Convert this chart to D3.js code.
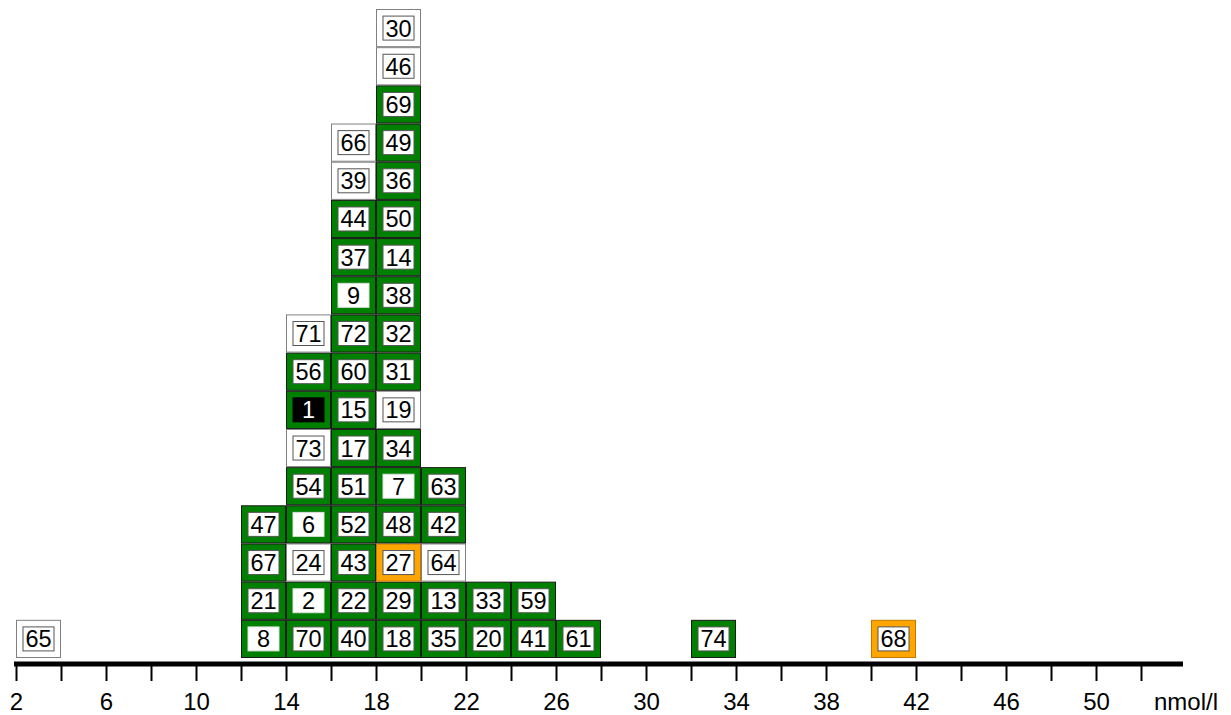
<!DOCTYPE html>
<html>
<head>
<meta charset="utf-8">
<script src="https://cdn.jsdelivr.net/npm/d3@7"></script>
<style>
  body { margin: 0; background: #fff; }
  svg text { font-family: "Liberation Sans", Arial, sans-serif; }
</style>
</head>
<body>
<svg id="chart" width="1231" height="715"></svg>
<script>
/* ── Data ─────────────────────────────────────────────────────── */
/* lower edge of each 2 nmol/l bin that holds results */
const binStarts = [2, 12, 14, 16, 18, 20, 22, 24, 26, 32, 40];
/* lab numbers stacked bottom → top in each bin */
const labStacks = [
  [65],
  [8, 21, 67, 47],
  [70, 2, 24, 6, 54, 73, 1, 56, 71],
  [40, 22, 43, 52, 51, 17, 15, 60, 72, 9, 37, 44, 39, 66],
  [18, 29, 27, 48, 7, 34, 19, 31, 32, 38, 14, 50, 36, 49, 69, 46, 30],
  [35, 13, 64, 42, 63],
  [20, 33],
  [41, 59],
  [61],
  [74],
  [68],
];
/* rating per box: g = ok (green), w = not rated, o = questionable, b = own lab */
const labStatus = [
  "w",
  "gggg",
  "ggwggwbgw",
  "ggggggggggggww",
  "ggogggwggggggggww",
  "ggwgg",
  "gg",
  "gg",
  "g",
  "g",
  "o",
];
const tickValues = d3.range(2, 53, 2);
const unitLabel = "nmol/l";

/* ── Styles ───────────────────────────────────────────────────── */
const FILL   = { g: "#008000", w: "#ffffff", o: "#ffa500", b: "#008000" };
const STROKE = { g: "#1a1a1a", w: "#808080", o: "#c07800", b: "#1a1a1a" };

const svg = d3.select("#chart");

const x = d3.scaleLinear().domain([2, 54]).range([16, 1186]);
const y = d3.scaleLinear().domain([0, 17]).range([658, 9]);
const axisY = 664;

/* flatten stacks into box records */
const boxes = [];
binStarts.forEach((b, i) => {
  labStacks[i].forEach((lab, k) => {
    boxes.push({ bin: b, level: k, lab, status: labStatus[i][k] });
  });
});

const g = svg.append("g");
const box = g.selectAll("g.box")
  .data(boxes)
  .enter().append("g")
    .attr("class", "box");

box.append("rect")
  .attr("x", d => x(d.bin) + 0.5)
  .attr("y", d => y(d.level + 1) + 0.5)
  .attr("width", d => x(d.bin + 2) - x(d.bin) - 1)
  .attr("height", d => y(d.level) - y(d.level + 1) - 1)
  .attr("fill", d => FILL[d.status])
  .attr("stroke", d => STROKE[d.status])
  .attr("stroke-width", 1);

/* inner label box */
box.append("rect")
  .attr("x", d => (x(d.bin) + x(d.bin + 2)) / 2 - 15.5)
  .attr("y", d => (y(d.level) + y(d.level + 1)) / 2 - 12)
  .attr("width", 31)
  .attr("height", 24)
  .attr("fill", d => d.status === "b" ? "#000" : "#fff")
  .attr("stroke", d => d.status === "b" ? "#000" : (d.lab < 10 ? "#ddd" : "#555"))
  .attr("stroke-width", 1);

box.append("text")
  .attr("x", d => (x(d.bin) + x(d.bin + 2)) / 2)
  .attr("y", d => (y(d.level) + y(d.level + 1)) / 2 + 8.5)
  .attr("text-anchor", "middle")
  .attr("font-size", 23.5)
  .attr("fill", d => d.status === "b" ? "#fff" : "#000")
  .text(d => d.lab);

/* ── Axis ─────────────────────────────────────────────────────── */
const axis = d3.axisBottom(x)
  .tickValues(tickValues)
  .tickSize(17)
  .tickPadding(12)
  .tickFormat(v => (v - 2) % 4 === 0 ? v : "");

const ax = svg.append("g")
  .attr("transform", `translate(0,${axisY})`)
  .call(axis);
ax.select(".domain").remove();
ax.selectAll(".tick line").attr("stroke", "#000").attr("stroke-width", 2);
ax.selectAll(".tick text")
  .attr("font-size", 24)
  .attr("font-family", "Liberation Sans, Arial, sans-serif")
  .attr("fill", "#000");

svg.append("line")
  .attr("x1", 14).attr("x2", 1183)
  .attr("y1", axisY).attr("y2", axisY)
  .attr("stroke", "#000")
  .attr("stroke-width", 5);

svg.append("text")
  .attr("x", 1154)
  .attr("y", 710)
  .attr("font-size", 24)
  .text(unitLabel);
</script>
</body>
</html>
